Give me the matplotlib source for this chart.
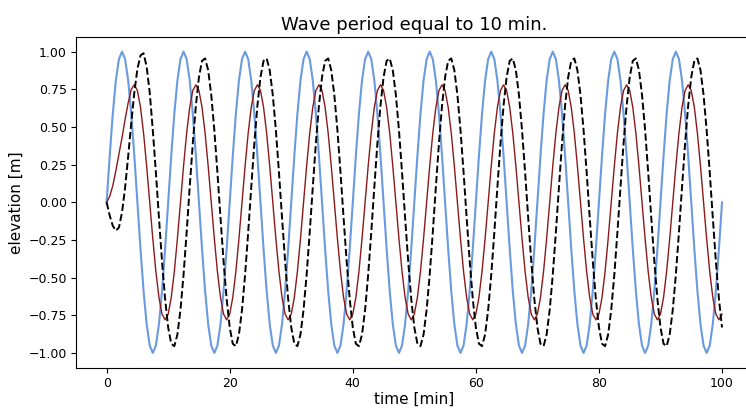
import numpy as np
import matplotlib
matplotlib.use('Agg')
import matplotlib.pyplot as plt

# time axis, one sample every 0.5 min
time = np.arange(201) * 0.5

# forcing wave (blue), one period per row
forcing = [
    0.0, 0.309, 0.588, 0.809, 0.951, 1.0, 0.951, 0.809, 0.588, 0.309, 0.0, -0.309, -0.588, -0.809, -0.951, -1.0, -0.951, -0.809, -0.588, -0.309,
    0.0, 0.309, 0.588, 0.809, 0.951, 1.0, 0.951, 0.809, 0.588, 0.309, 0.0, -0.309, -0.588, -0.809, -0.951, -1.0, -0.951, -0.809, -0.588, -0.309,
    0.0, 0.309, 0.588, 0.809, 0.951, 1.0, 0.951, 0.809, 0.588, 0.309, 0.0, -0.309, -0.588, -0.809, -0.951, -1.0, -0.951, -0.809, -0.588, -0.309,
    0.0, 0.309, 0.588, 0.809, 0.951, 1.0, 0.951, 0.809, 0.588, 0.309, 0.0, -0.309, -0.588, -0.809, -0.951, -1.0, -0.951, -0.809, -0.588, -0.309,
    0.0, 0.309, 0.588, 0.809, 0.951, 1.0, 0.951, 0.809, 0.588, 0.309, 0.0, -0.309, -0.588, -0.809, -0.951, -1.0, -0.951, -0.809, -0.588, -0.309,
    0.0, 0.309, 0.588, 0.809, 0.951, 1.0, 0.951, 0.809, 0.588, 0.309, 0.0, -0.309, -0.588, -0.809, -0.951, -1.0, -0.951, -0.809, -0.588, -0.309,
    0.0, 0.309, 0.588, 0.809, 0.951, 1.0, 0.951, 0.809, 0.588, 0.309, 0.0, -0.309, -0.588, -0.809, -0.951, -1.0, -0.951, -0.809, -0.588, -0.309,
    0.0, 0.309, 0.588, 0.809, 0.951, 1.0, 0.951, 0.809, 0.588, 0.309, 0.0, -0.309, -0.588, -0.809, -0.951, -1.0, -0.951, -0.809, -0.588, -0.309,
    0.0, 0.309, 0.588, 0.809, 0.951, 1.0, 0.951, 0.809, 0.588, 0.309, 0.0, -0.309, -0.588, -0.809, -0.951, -1.0, -0.951, -0.809, -0.588, -0.309,
    0.0, 0.309, 0.588, 0.809, 0.951, 1.0, 0.951, 0.809, 0.588, 0.309, 0.0, -0.309, -0.588, -0.809, -0.951, -1.0, -0.951, -0.809, -0.588, -0.309,
    0.0,
]

# response (dark red)
response = [
    0.0, 0.04, 0.11, 0.21, 0.32, 0.43, 0.55, 0.66, 0.75, 0.78, 0.742, 0.631, 0.459, 0.241, 0.0, -0.241, -0.459, -0.631, -0.742, -0.78,
    -0.742, -0.631, -0.459, -0.241, 0.0, 0.241, 0.459, 0.631, 0.742, 0.78, 0.742, 0.631, 0.459, 0.241, 0.0, -0.241, -0.459, -0.631, -0.742, -0.78,
    -0.742, -0.631, -0.459, -0.241, 0.0, 0.241, 0.459, 0.631, 0.742, 0.78, 0.742, 0.631, 0.459, 0.241, 0.0, -0.241, -0.459, -0.631, -0.742, -0.78,
    -0.742, -0.631, -0.459, -0.241, 0.0, 0.241, 0.459, 0.631, 0.742, 0.78, 0.742, 0.631, 0.459, 0.241, 0.0, -0.241, -0.459, -0.631, -0.742, -0.78,
    -0.742, -0.631, -0.459, -0.241, 0.0, 0.241, 0.459, 0.631, 0.742, 0.78, 0.742, 0.631, 0.459, 0.241, 0.0, -0.241, -0.459, -0.631, -0.742, -0.78,
    -0.742, -0.631, -0.459, -0.241, 0.0, 0.241, 0.459, 0.631, 0.742, 0.78, 0.742, 0.631, 0.459, 0.241, 0.0, -0.241, -0.459, -0.631, -0.742, -0.78,
    -0.742, -0.631, -0.459, -0.241, 0.0, 0.241, 0.459, 0.631, 0.742, 0.78, 0.742, 0.631, 0.459, 0.241, 0.0, -0.241, -0.459, -0.631, -0.742, -0.78,
    -0.742, -0.631, -0.459, -0.241, 0.0, 0.241, 0.459, 0.631, 0.742, 0.78, 0.742, 0.631, 0.459, 0.241, 0.0, -0.241, -0.459, -0.631, -0.742, -0.78,
    -0.742, -0.631, -0.459, -0.241, 0.0, 0.241, 0.459, 0.631, 0.742, 0.78, 0.742, 0.631, 0.459, 0.241, 0.0, -0.241, -0.459, -0.631, -0.742, -0.78,
    -0.742, -0.631, -0.459, -0.241, 0.0, 0.241, 0.459, 0.631, 0.742, 0.78, 0.742, 0.631, 0.459, 0.241, 0.0, -0.241, -0.459, -0.631, -0.742, -0.78,
    -0.742,
]

# second response (black dashed)
response2 = [
    0.0, -0.088, -0.156, -0.189, -0.167, -0.067, 0.097, 0.305, 0.526, 0.729, 0.886, 0.975, 0.99, 0.9, 0.73, 0.48, 0.2, -0.101, -0.391, -0.642,
    -0.831, -0.939, -0.955, -0.877, -0.713, -0.48, -0.2, 0.101, 0.391, 0.642, 0.831, 0.939, 0.955, 0.877, 0.713, 0.48, 0.2, -0.101, -0.391, -0.642,
    -0.831, -0.939, -0.955, -0.877, -0.713, -0.48, -0.2, 0.101, 0.391, 0.642, 0.831, 0.939, 0.955, 0.877, 0.713, 0.48, 0.2, -0.101, -0.391, -0.642,
    -0.831, -0.939, -0.955, -0.877, -0.713, -0.48, -0.2, 0.101, 0.391, 0.642, 0.831, 0.939, 0.955, 0.877, 0.713, 0.48, 0.2, -0.101, -0.391, -0.642,
    -0.831, -0.939, -0.955, -0.877, -0.713, -0.48, -0.2, 0.101, 0.391, 0.642, 0.831, 0.939, 0.955, 0.877, 0.713, 0.48, 0.2, -0.101, -0.391, -0.642,
    -0.831, -0.939, -0.955, -0.877, -0.713, -0.48, -0.2, 0.101, 0.391, 0.642, 0.831, 0.939, 0.955, 0.877, 0.713, 0.48, 0.2, -0.101, -0.391, -0.642,
    -0.831, -0.939, -0.955, -0.877, -0.713, -0.48, -0.2, 0.101, 0.391, 0.642, 0.831, 0.939, 0.955, 0.877, 0.713, 0.48, 0.2, -0.101, -0.391, -0.642,
    -0.831, -0.939, -0.955, -0.877, -0.713, -0.48, -0.2, 0.101, 0.391, 0.642, 0.831, 0.939, 0.955, 0.877, 0.713, 0.48, 0.2, -0.101, -0.391, -0.642,
    -0.831, -0.939, -0.955, -0.877, -0.713, -0.48, -0.2, 0.101, 0.391, 0.642, 0.831, 0.939, 0.955, 0.877, 0.713, 0.48, 0.2, -0.101, -0.391, -0.642,
    -0.831, -0.939, -0.955, -0.877, -0.713, -0.48, -0.2, 0.101, 0.391, 0.642, 0.831, 0.939, 0.955, 0.877, 0.713, 0.48, 0.2, -0.101, -0.391, -0.642,
    -0.831,
]

fig = plt.figure(figsize=(7.46, 4.08), dpi=100)
# right edge of the frame falls just outside the picture, as in the reference
ax = fig.add_axes([0.1017, 0.098, 0.9074, 0.8123])

ax.plot(time, forcing, color='#6a9ae0', lw=1.5)
ax.plot(time, response, color='#8b1a1a', lw=1.0)
ax.plot(time, response2, '--', color='black', lw=1.4)

ax.set_title('Wave period equal to 10 min.', fontsize=13, pad=5)
ax.set_xlabel('time [min]', fontsize=11, labelpad=1)
ax.set_ylabel('elevation [m]', fontsize=11, labelpad=3)
ax.tick_params(labelsize=9, length=3.5, pad=3)

fig.savefig('out.png', dpi=100)
